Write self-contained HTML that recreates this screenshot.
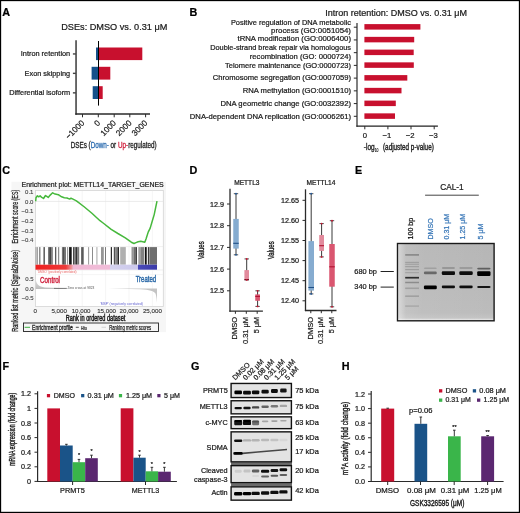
<!DOCTYPE html>
<html><head><meta charset="utf-8"><style>
html,body{margin:0;padding:0;background:#fff;}
svg{display:block;will-change:transform;}
text{font-family:"Liberation Sans", sans-serif;}
</style></head><body>
<svg width="520" height="513" viewBox="0 0 520 513" font-family='"Liberation Sans", sans-serif' fill="#1a1a1a">
<rect width="520" height="513" fill="#fff"/>
<text x="2.2" y="15.7" font-size="10.8" fill="#000" font-weight="bold" stroke="#000" stroke-width="0.22" >A</text>
<text x="61.2" y="30" font-size="9" textLength="106.2" lengthAdjust="spacingAndGlyphs" stroke="#1a1a1a" stroke-width="0.22" >DSEs: DMSO vs. 0.31 μM</text>
<line x1="76.05" y1="40.2" x2="76.05" y2="114.7" stroke="#3a3a3a" stroke-width="1.5"/>
<line x1="75.3" y1="114" x2="150" y2="114" stroke="#2a2a2a" stroke-width="1.4"/>
<rect x="96.00" y="47.50" width="2.50" height="12.60" fill="#15508a" />
<rect x="98.50" y="47.50" width="43.80" height="12.60" fill="#c8102e" />
<line x1="72.9" y1="53.95" x2="76" y2="53.95" stroke="#444" stroke-width="1.4"/>
<text x="70.2" y="56.3" font-size="7.7" text-anchor="end" textLength="49.4" lengthAdjust="spacingAndGlyphs" stroke="#1a1a1a" stroke-width="0.22" >Intron retention</text>
<rect x="91.60" y="66.80" width="6.90" height="12.80" fill="#15508a" />
<rect x="98.50" y="66.80" width="11.80" height="12.80" fill="#c8102e" />
<line x1="72.9" y1="73.35" x2="76" y2="73.35" stroke="#444" stroke-width="1.4"/>
<text x="70.2" y="75.7" font-size="7.7" text-anchor="end" textLength="45.6" lengthAdjust="spacingAndGlyphs" stroke="#1a1a1a" stroke-width="0.22" >Exon skipping</text>
<rect x="92.70" y="86.20" width="5.80" height="12.80" fill="#15508a" />
<rect x="98.50" y="86.20" width="4.20" height="12.80" fill="#c8102e" />
<line x1="72.9" y1="92.85" x2="76" y2="92.85" stroke="#444" stroke-width="1.4"/>
<text x="70.2" y="95.2" font-size="7.7" text-anchor="end" textLength="61.0" lengthAdjust="spacingAndGlyphs" stroke="#1a1a1a" stroke-width="0.22" >Differential isoform</text>
<line x1="98.5" y1="41" x2="98.5" y2="105.6" stroke="#000" stroke-width="1"/>
<line x1="82.5" y1="114" x2="82.5" y2="117.3" stroke="#2a2a2a" stroke-width="1"/>
<text x="84.9" y="123.6" font-size="8.2" text-anchor="end" transform="rotate(-45 84.9 123.6)" stroke="#1a1a1a" stroke-width="0.22" >−1000</text>
<line x1="98.3" y1="114" x2="98.3" y2="117.3" stroke="#2a2a2a" stroke-width="1"/>
<text x="100.7" y="123.6" font-size="8.2" text-anchor="end" transform="rotate(-45 100.7 123.6)" stroke="#1a1a1a" stroke-width="0.22" >0</text>
<line x1="114.2" y1="114" x2="114.2" y2="117.3" stroke="#2a2a2a" stroke-width="1"/>
<text x="116.6" y="123.6" font-size="8.2" text-anchor="end" transform="rotate(-45 116.6 123.6)" stroke="#1a1a1a" stroke-width="0.22" >1000</text>
<line x1="129.8" y1="114" x2="129.8" y2="117.3" stroke="#2a2a2a" stroke-width="1"/>
<text x="132.2" y="123.6" font-size="8.2" text-anchor="end" transform="rotate(-45 132.2 123.6)" stroke="#1a1a1a" stroke-width="0.22" >2000</text>
<line x1="145.6" y1="114" x2="145.6" y2="117.3" stroke="#2a2a2a" stroke-width="1"/>
<text x="148.0" y="123.6" font-size="8.2" text-anchor="end" transform="rotate(-45 148.0 123.6)" stroke="#1a1a1a" stroke-width="0.22" >3000</text>
<text x="70.7" y="148.1" font-size="8.6" textLength="85.8" lengthAdjust="spacingAndGlyphs" fill="#222" stroke="#222" stroke-width="0.3">DSEs (<tspan fill="#2d6db0" stroke="#2d6db0">Down-</tspan> or <tspan fill="#d0213d" stroke="#d0213d">Up-</tspan>regulated)</text>
<text x="189.6" y="15.7" font-size="10.8" fill="#000" font-weight="bold" stroke="#000" stroke-width="0.22" >B</text>
<text x="325.2" y="16.4" font-size="9" textLength="141.8" lengthAdjust="spacingAndGlyphs" stroke="#1a1a1a" stroke-width="0.22" >Intron retention: DMSO vs. 0.31 μM</text>
<line x1="357" y1="23" x2="357" y2="126.7" stroke="#2a2a2a" stroke-width="1.2"/>
<line x1="356.4" y1="126.1" x2="437.9" y2="126.1" stroke="#222" stroke-width="1.3"/>
<rect x="364.40" y="24.10" width="56.00" height="5.50" fill="#c8102e" />
<line x1="353.8" y1="27.2" x2="357" y2="27.2" stroke="#2a2a2a" stroke-width="1"/>
<rect x="364.40" y="36.85" width="49.80" height="5.50" fill="#c8102e" />
<line x1="353.8" y1="39.93" x2="357" y2="39.93" stroke="#2a2a2a" stroke-width="1"/>
<rect x="364.40" y="49.60" width="49.30" height="5.50" fill="#c8102e" />
<line x1="353.8" y1="52.66" x2="357" y2="52.66" stroke="#2a2a2a" stroke-width="1"/>
<rect x="364.40" y="62.35" width="49.40" height="5.50" fill="#c8102e" />
<line x1="353.8" y1="65.39" x2="357" y2="65.39" stroke="#2a2a2a" stroke-width="1"/>
<rect x="364.40" y="75.10" width="42.90" height="5.50" fill="#c8102e" />
<line x1="353.8" y1="78.12" x2="357" y2="78.12" stroke="#2a2a2a" stroke-width="1"/>
<rect x="364.40" y="87.85" width="37.10" height="5.50" fill="#c8102e" />
<line x1="353.8" y1="90.85" x2="357" y2="90.85" stroke="#2a2a2a" stroke-width="1"/>
<rect x="364.40" y="100.60" width="31.40" height="5.50" fill="#c8102e" />
<line x1="353.8" y1="103.58" x2="357" y2="103.58" stroke="#2a2a2a" stroke-width="1"/>
<rect x="364.40" y="113.35" width="30.60" height="5.50" fill="#c8102e" />
<line x1="353.8" y1="116.31" x2="357" y2="116.31" stroke="#2a2a2a" stroke-width="1"/>
<text x="230.9" y="25.0" font-size="7.7" textLength="120.1" lengthAdjust="spacingAndGlyphs" stroke="#1a1a1a" stroke-width="0.22" >Positive regulation of DNA metabolic</text>
<text x="271.1" y="32.9" font-size="7.7" textLength="79.9" lengthAdjust="spacingAndGlyphs" stroke="#1a1a1a" stroke-width="0.22" >process (GO:0051054)</text>
<text x="237.5" y="41.2" font-size="7.7" textLength="113.5" lengthAdjust="spacingAndGlyphs" stroke="#1a1a1a" stroke-width="0.22" >tRNA modification (GO:0006400)</text>
<text x="210.2" y="50.4" font-size="7.7" textLength="140.8" lengthAdjust="spacingAndGlyphs" stroke="#1a1a1a" stroke-width="0.22" >Double-strand break repair via homologous</text>
<text x="249.8" y="58.6" font-size="7.7" textLength="101.2" lengthAdjust="spacingAndGlyphs" stroke="#1a1a1a" stroke-width="0.22" >recombination (GO: 0000724)</text>
<text x="225.0" y="67.6" font-size="7.7" textLength="126.0" lengthAdjust="spacingAndGlyphs" stroke="#1a1a1a" stroke-width="0.22" >Telomere maintenance (GO:0000723)</text>
<text x="212.7" y="80.2" font-size="7.7" textLength="138.3" lengthAdjust="spacingAndGlyphs" stroke="#1a1a1a" stroke-width="0.22" >Chromosome segregation (GO:0007059)</text>
<text x="242.7" y="93.0" font-size="7.7" textLength="108.3" lengthAdjust="spacingAndGlyphs" stroke="#1a1a1a" stroke-width="0.22" >RNA methylation (GO:0001510)</text>
<text x="220.4" y="105.8" font-size="7.7" textLength="130.6" lengthAdjust="spacingAndGlyphs" stroke="#1a1a1a" stroke-width="0.22" >DNA geometric change (GO:0032392)</text>
<text x="189.8" y="118.5" font-size="7.7" textLength="161.2" lengthAdjust="spacingAndGlyphs" stroke="#1a1a1a" stroke-width="0.22" >DNA-dependent DNA replication (GO:0006261)</text>
<line x1="364.8" y1="126.1" x2="364.8" y2="129.3" stroke="#2a2a2a" stroke-width="1"/>
<text x="364.8" y="137.9" font-size="7.7" text-anchor="middle" stroke="#1a1a1a" stroke-width="0.22" >0</text>
<line x1="387.9" y1="126.1" x2="387.9" y2="129.3" stroke="#2a2a2a" stroke-width="1"/>
<text x="387.0" y="137.9" font-size="7.7" text-anchor="middle" stroke="#1a1a1a" stroke-width="0.22" >−1</text>
<line x1="411.0" y1="126.1" x2="411.0" y2="129.3" stroke="#2a2a2a" stroke-width="1"/>
<text x="410.1" y="137.9" font-size="7.7" text-anchor="middle" stroke="#1a1a1a" stroke-width="0.22" >−2</text>
<line x1="434.2" y1="126.1" x2="434.2" y2="129.3" stroke="#2a2a2a" stroke-width="1"/>
<text x="433.3" y="137.9" font-size="7.7" text-anchor="middle" stroke="#1a1a1a" stroke-width="0.22" >−3</text>
<text x="363.8" y="150.0" font-size="8.6" fill="#222" textLength="10.8" lengthAdjust="spacingAndGlyphs" stroke="#222" stroke-width="0.38">-log</text>
<text x="374.7" y="151.9" font-size="5.2" fill="#222" textLength="3.8" lengthAdjust="spacingAndGlyphs" stroke="#222" stroke-width="0.22" >10</text>
<text x="383.0" y="150.0" font-size="8.6" fill="#222" textLength="50.8" lengthAdjust="spacingAndGlyphs" stroke="#222" stroke-width="0.38">(adjusted p-value)</text>
<text x="2.2" y="173.7" font-size="10.8" fill="#000" font-weight="bold" stroke="#000" stroke-width="0.22" >C</text>
<rect x="11.50" y="181.80" width="154.50" height="150.30" fill="#f6f6f6" />
<rect x="35.40" y="190.40" width="127.90" height="116.20" fill="#fff" stroke="#d4d4d4" stroke-width="0.8"/>
<line x1="35.8" y1="246.6" x2="163" y2="246.6" stroke="#e6e6e6" stroke-width="0.6"/>
<line x1="35.8" y1="270.0" x2="163" y2="270.0" stroke="#e6e6e6" stroke-width="0.6"/>
<line x1="35.8" y1="274.6" x2="163" y2="274.6" stroke="#eeeeee" stroke-width="0.6"/>
<line x1="58.8" y1="190.8" x2="58.8" y2="306.2" stroke="#efefef" stroke-width="0.6"/>
<line x1="82.2" y1="190.8" x2="82.2" y2="306.2" stroke="#efefef" stroke-width="0.6"/>
<line x1="105.6" y1="190.8" x2="105.6" y2="306.2" stroke="#efefef" stroke-width="0.6"/>
<line x1="129.0" y1="190.8" x2="129.0" y2="306.2" stroke="#efefef" stroke-width="0.6"/>
<line x1="152.4" y1="190.8" x2="152.4" y2="306.2" stroke="#efefef" stroke-width="0.6"/>
<line x1="35.8" y1="201.4" x2="163" y2="201.4" stroke="#e2e2e2" stroke-width="0.7"/>
<text x="21.5" y="187.4" font-size="7.2" fill="#222" textLength="142.2" lengthAdjust="spacingAndGlyphs" stroke="#222" stroke-width="0.22" >Enrichment plot: METTL14_TARGET_GENES</text>
<text x="33.4" y="194.2" font-size="6.0" text-anchor="end" fill="#444" stroke="#444" stroke-width="0.12">0.1</text>
<text x="33.4" y="203.7" font-size="6.0" text-anchor="end" fill="#444" stroke="#444" stroke-width="0.12">0.0</text>
<text x="33.4" y="213.3" font-size="6.0" text-anchor="end" fill="#444" stroke="#444" stroke-width="0.12">−0.1</text>
<text x="33.4" y="222.9" font-size="6.0" text-anchor="end" fill="#444" stroke="#444" stroke-width="0.12">−0.2</text>
<text x="33.4" y="232.5" font-size="6.0" text-anchor="end" fill="#444" stroke="#444" stroke-width="0.12">−0.3</text>
<text x="33.4" y="242.0" font-size="6.0" text-anchor="end" fill="#444" stroke="#444" stroke-width="0.12">−0.4</text>
<text x="17.6" y="243.5" font-size="8.6" fill="#222" textLength="53.8" lengthAdjust="spacingAndGlyphs" transform="rotate(-90 17.6 243.5)" stroke="#222" stroke-width="0.25">Enrichment score (ES)</text>
<rect x="35.50" y="247.10" width="0.90" height="17.60" fill="rgb(150,150,150)" />
<rect x="36.70" y="247.10" width="1.10" height="17.60" fill="rgb(140,140,140)" />
<rect x="39.00" y="247.10" width="1.50" height="17.60" fill="rgb(140,140,140)" />
<rect x="43.40" y="247.10" width="1.60" height="17.60" fill="rgb(100,100,100)" />
<rect x="48.20" y="247.10" width="1.80" height="17.60" fill="rgb(90,90,90)" />
<rect x="50.00" y="247.10" width="1.40" height="17.60" fill="rgb(70,70,70)" />
<rect x="51.40" y="247.10" width="1.30" height="17.60" fill="rgb(100,100,100)" />
<rect x="55.00" y="247.10" width="1.30" height="17.60" fill="rgb(90,90,90)" />
<rect x="58.00" y="247.10" width="1.20" height="17.60" fill="rgb(140,140,140)" />
<rect x="61.90" y="247.10" width="1.10" height="17.60" fill="rgb(120,120,120)" />
<rect x="63.00" y="247.10" width="1.50" height="17.60" fill="rgb(80,80,80)" />
<rect x="64.50" y="247.10" width="1.20" height="17.60" fill="rgb(60,60,60)" />
<rect x="67.20" y="247.10" width="0.90" height="17.60" fill="rgb(130,130,130)" />
<rect x="69.10" y="247.10" width="2.60" height="17.60" fill="rgb(20,20,20)" />
<rect x="73.00" y="247.10" width="1.50" height="17.60" fill="rgb(70,70,70)" />
<rect x="74.50" y="247.10" width="1.50" height="17.60" fill="rgb(110,110,110)" />
<rect x="76.00" y="247.10" width="1.50" height="17.60" fill="rgb(50,50,50)" />
<rect x="77.50" y="247.10" width="1.70" height="17.60" fill="rgb(120,120,120)" />
<rect x="81.00" y="247.10" width="1.00" height="17.60" fill="rgb(110,110,110)" />
<rect x="82.00" y="247.10" width="1.00" height="17.60" fill="rgb(90,90,90)" />
<rect x="83.00" y="247.10" width="1.00" height="17.60" fill="rgb(140,140,140)" />
<rect x="88.20" y="247.10" width="0.90" height="17.60" fill="rgb(140,140,140)" />
<rect x="92.00" y="247.10" width="1.00" height="17.60" fill="rgb(140,140,140)" />
<rect x="96.30" y="247.10" width="1.20" height="17.60" fill="rgb(180,180,180)" />
<rect x="101.00" y="247.10" width="2.80" height="17.60" fill="rgb(150,150,150)" />
<rect x="105.20" y="247.10" width="0.80" height="17.60" fill="rgb(90,90,90)" />
<rect x="110.80" y="247.10" width="1.10" height="17.60" fill="rgb(20,20,20)" />
<rect x="113.80" y="247.10" width="1.70" height="17.60" fill="rgb(80,80,80)" />
<rect x="115.50" y="247.10" width="2.00" height="17.60" fill="rgb(130,130,130)" />
<rect x="117.50" y="247.10" width="1.50" height="17.60" fill="rgb(40,40,40)" />
<rect x="120.20" y="247.10" width="5.60" height="17.60" fill="rgb(175,175,175)" />
<rect x="131.50" y="247.10" width="2.00" height="17.60" fill="rgb(150,150,150)" />
<rect x="133.50" y="247.10" width="2.40" height="17.60" fill="rgb(110,110,110)" />
<rect x="135.90" y="247.10" width="0.90" height="17.60" fill="rgb(20,20,20)" />
<rect x="138.30" y="247.10" width="2.70" height="17.60" fill="rgb(160,160,160)" />
<rect x="141.00" y="247.10" width="3.00" height="17.60" fill="rgb(130,130,130)" />
<rect x="144.80" y="247.10" width="1.90" height="17.60" fill="rgb(15,15,15)" />
<rect x="147.90" y="247.10" width="0.90" height="17.60" fill="rgb(15,15,15)" />
<rect x="149.30" y="247.10" width="7.70" height="17.60" fill="rgb(110,110,110)" />
<defs><linearGradient id="cb" x1="35.5" x2="157" gradientUnits="userSpaceOnUse"><stop offset="0" stop-color="#ee2020"/><stop offset="0.25" stop-color="#ee3a3a"/><stop offset="0.3" stop-color="#ef9aa0"/><stop offset="0.31" stop-color="#f0b8d4"/><stop offset="0.61" stop-color="#f0bcd8"/><stop offset="0.615" stop-color="#d4d2ee"/><stop offset="0.84" stop-color="#ccc8ec"/><stop offset="0.845" stop-color="#4a4ab8"/><stop offset="1" stop-color="#3a3aa8"/></linearGradient></defs>
<rect x="35.50" y="264.70" width="121.50" height="5.00" fill="url(#cb)" />
<text x="37.4" y="272.6" font-size="2.8" fill="#e86060" textLength="39" lengthAdjust="spacingAndGlyphs" stroke="none">'DMSO' (positively correlated)</text>
<polyline points="35.7,201.2 36,197.8 37.4,195.8 38.7,196.8 40.1,195.8 41.4,197.1 43.5,198.5 45.5,195.5 46.8,196.4 48.2,197.4 50.2,195.1 52.6,192.8 54.2,193.7 56.2,194.2 58.3,194.7 61.6,196.8 64.3,197.8 67,198 69.7,199.1 71,198.2 73,199.1 76.4,200.9 83.8,206.5 91.9,213.3 100,220.7 103.1,223 111.2,229.4 117.9,233.5 125.3,237.8 131.3,242.2 134,243.5 136,242.6 138.1,241.8 140.8,241.3 144.8,242.2 146.1,238.8 148.2,232.1 150.2,228.1 152.2,221.3 154.2,214.6 155.6,207.9 157,201.2" fill="none" stroke="#46b83c" stroke-width="1.5" stroke-linejoin="round"/>
<defs><linearGradient id="rk" x1="0" y1="0" x2="0" y2="1"><stop offset="0" stop-color="#e4e4e4"/><stop offset="1" stop-color="#bdbdbd"/></linearGradient></defs>
<path d="M35.6,289 L35.6,278.2 C36.2,284 38.5,286.6 45,287.4 L66,288.2 L66,289 Z" fill="url(#rk)"/>
<path d="M108,288.5 L140,289.2 C150,289.8 154,291 155.5,293.5 C156.4,296 156.8,300 157,303 L157,288.5 Z" fill="#c4c4c4"/>
<line x1="54" y1="288.4" x2="67" y2="288.4" stroke="#444" stroke-width="0.6"/>
<text x="67.5" y="289.3" font-size="3.0" fill="#555" textLength="26.8" lengthAdjust="spacingAndGlyphs" stroke="none">Zero cross at 9823</text>
<text x="40.1" y="283.0" font-size="8.6" fill="#d0213d" textLength="19.9" lengthAdjust="spacingAndGlyphs" stroke="#d0213d" stroke-width="0.45">Control</text>
<text x="135.7" y="282.0" font-size="8.6" fill="#2c6aa8" textLength="20.4" lengthAdjust="spacingAndGlyphs" stroke="#2c6aa8" stroke-width="0.45">Treated</text>
<text x="100" y="305.2" font-size="2.8" fill="#6060d0" textLength="43" lengthAdjust="spacingAndGlyphs" stroke="none">'MSP' (negatively correlated)</text>
<text x="33.6" y="281.0" font-size="6.0" text-anchor="end" fill="#444" stroke="#444" stroke-width="0.12">0.5</text>
<text x="33.6" y="290.6" font-size="6.0" text-anchor="end" fill="#444" stroke="#444" stroke-width="0.12">0.0</text>
<text x="33.6" y="299.8" font-size="6.0" text-anchor="end" fill="#444" stroke="#444" stroke-width="0.12">−0.5</text>
<text x="17.6" y="331.8" font-size="8.6" fill="#222" textLength="81.9" lengthAdjust="spacingAndGlyphs" transform="rotate(-90 17.6 331.8)" stroke="#222" stroke-width="0.28">Ranked list metric (Signal2Noise)</text>
<text x="35.2" y="312.5" font-size="6.2" text-anchor="middle" fill="#333" stroke="#333" stroke-width="0.12">0</text>
<text x="59.2" y="312.5" font-size="6.2" text-anchor="middle" fill="#333" stroke="#333" stroke-width="0.12">5,000</text>
<text x="81.1" y="312.5" font-size="6.2" text-anchor="middle" fill="#333" stroke="#333" stroke-width="0.12">10,000</text>
<text x="106.6" y="312.5" font-size="6.2" text-anchor="middle" fill="#333" stroke="#333" stroke-width="0.12">15,000</text>
<text x="129.0" y="312.5" font-size="6.2" text-anchor="middle" fill="#333" stroke="#333" stroke-width="0.12">20,000</text>
<text x="152.4" y="312.5" font-size="6.2" text-anchor="middle" fill="#333" stroke="#333" stroke-width="0.12">25,000</text>
<text x="65.7" y="320.8" font-size="8.2" fill="#222" textLength="59.6" lengthAdjust="spacingAndGlyphs" stroke="#222" stroke-width="0.5">Rank in ordered dataset</text>
<rect x="23.50" y="323.00" width="135.00" height="8.50" fill="#f6f6f6" stroke="#222" stroke-width="0.9"/>
<line x1="24.6" y1="327.3" x2="30" y2="327.3" stroke="#3cb043" stroke-width="1"/>
<text x="32" y="329.8" font-size="7.2" fill="#222" textLength="40.8" lengthAdjust="spacingAndGlyphs" stroke="#222" stroke-width="0.3">Enrichment profile</text>
<line x1="75.8" y1="327.3" x2="78.8" y2="327.3" stroke="#222" stroke-width="0.8"/>
<text x="81" y="329.8" font-size="5.6" fill="#222" textLength="6" lengthAdjust="spacingAndGlyphs" stroke="#222" stroke-width="0.22" >Hits</text>
<line x1="101.5" y1="327.3" x2="106" y2="327.3" stroke="#ccc" stroke-width="0.8"/>
<text x="109.2" y="329.8" font-size="7.0" fill="#222" textLength="42" lengthAdjust="spacingAndGlyphs" stroke="#222" stroke-width="0.25">Ranking metric scores</text>
<text x="189.5" y="173.7" font-size="10.8" fill="#000" font-weight="bold" stroke="#000" stroke-width="0.22" >D</text>
<text x="234.2" y="185" font-size="6.6" stroke="#1a1a1a" stroke-width="0.22" >METTL3</text>
<line x1="230" y1="188.8" x2="230" y2="311.7" stroke="#2a2a2a" stroke-width="1.3"/>
<line x1="229.4" y1="311.1" x2="262.9" y2="311.1" stroke="#2a2a2a" stroke-width="1.3"/>
<line x1="227" y1="204.0" x2="230" y2="204.0" stroke="#2a2a2a" stroke-width="1"/>
<text x="224" y="206.5" font-size="7.2" text-anchor="end" stroke="#1a1a1a" stroke-width="0.22" >12.9</text>
<line x1="227" y1="225.7" x2="230" y2="225.7" stroke="#2a2a2a" stroke-width="1"/>
<text x="224" y="228.2" font-size="7.2" text-anchor="end" stroke="#1a1a1a" stroke-width="0.22" >12.8</text>
<line x1="227" y1="247.4" x2="230" y2="247.4" stroke="#2a2a2a" stroke-width="1"/>
<text x="224" y="249.9" font-size="7.2" text-anchor="end" stroke="#1a1a1a" stroke-width="0.22" >12.7</text>
<line x1="227" y1="269.1" x2="230" y2="269.1" stroke="#2a2a2a" stroke-width="1"/>
<text x="224" y="271.6" font-size="7.2" text-anchor="end" stroke="#1a1a1a" stroke-width="0.22" >12.6</text>
<line x1="227" y1="290.8" x2="230" y2="290.8" stroke="#2a2a2a" stroke-width="1"/>
<text x="224" y="293.3" font-size="7.2" text-anchor="end" stroke="#1a1a1a" stroke-width="0.22" >12.5</text>
<text x="204.1" y="259.3" font-size="8.8" textLength="18" lengthAdjust="spacingAndGlyphs" transform="rotate(-90 204.1 259.3)" stroke="#1a1a1a" stroke-width="0.35">Values</text>
<line x1="236.0" y1="193.7" x2="236.0" y2="254.8" stroke="#222" stroke-width="0.9"/>
<rect x="233.25" y="218.90" width="5.50" height="29.70" fill="#86acd0" />
<line x1="233.25" y1="243.3" x2="238.75" y2="243.3" stroke="#1e4f86" stroke-width="1.1"/>
<line x1="233.8" y1="193.7" x2="238.2" y2="193.7" stroke="#222" stroke-width="0.8"/>
<circle cx="236.0" cy="193.7" r="0.9" fill="#1e5aa0"/>
<line x1="233.8" y1="254.8" x2="238.2" y2="254.8" stroke="#222" stroke-width="0.8"/>
<circle cx="236.0" cy="254.8" r="0.9" fill="#1e5aa0"/>
<line x1="246.7" y1="258.9" x2="246.7" y2="279.9" stroke="#222" stroke-width="0.9"/>
<rect x="244.40" y="270.10" width="4.60" height="9.80" fill="#e28a9c" />
<line x1="244.4" y1="279.6" x2="249.0" y2="279.6" stroke="#b01030" stroke-width="1.1"/>
<line x1="244.5" y1="258.9" x2="248.9" y2="258.9" stroke="#222" stroke-width="0.8"/>
<circle cx="246.7" cy="258.9" r="0.9" fill="#d0102e"/>
<line x1="244.5" y1="279.9" x2="248.9" y2="279.9" stroke="#222" stroke-width="0.8"/>
<circle cx="246.7" cy="279.9" r="0.9" fill="#d0102e"/>
<line x1="257.6" y1="290.8" x2="257.6" y2="306.4" stroke="#222" stroke-width="0.9"/>
<rect x="255.25" y="294.40" width="4.70" height="6.40" fill="#da5670" />
<line x1="255.25" y1="296.4" x2="259.95" y2="296.4" stroke="#b01030" stroke-width="1.1"/>
<line x1="255.4" y1="290.8" x2="259.8" y2="290.8" stroke="#222" stroke-width="0.8"/>
<circle cx="257.6" cy="290.8" r="0.9" fill="#d0102e"/>
<line x1="255.4" y1="306.4" x2="259.8" y2="306.4" stroke="#222" stroke-width="0.8"/>
<circle cx="257.6" cy="306.4" r="0.9" fill="#d0102e"/>
<line x1="235.4" y1="311.1" x2="235.4" y2="313.8" stroke="#2a2a2a" stroke-width="1"/>
<line x1="246.3" y1="311.1" x2="246.3" y2="313.8" stroke="#2a2a2a" stroke-width="1"/>
<line x1="257.2" y1="311.1" x2="257.2" y2="313.8" stroke="#2a2a2a" stroke-width="1"/>
<text x="237.3" y="316.9" font-size="7.9" text-anchor="end" textLength="22.6" lengthAdjust="spacingAndGlyphs" transform="rotate(-90 237.3 316.9)" stroke="#1a1a1a" stroke-width="0.22" >DMSO</text>
<text x="248.0" y="316.9" font-size="7.9" text-anchor="end" textLength="27.2" lengthAdjust="spacingAndGlyphs" transform="rotate(-90 248.0 316.9)" stroke="#1a1a1a" stroke-width="0.22" >0.31 μM</text>
<text x="259.0" y="316.9" font-size="7.9" text-anchor="end" textLength="16.4" lengthAdjust="spacingAndGlyphs" transform="rotate(-90 259.0 316.9)" stroke="#1a1a1a" stroke-width="0.22" >5 μM</text>
<text x="306.5" y="185" font-size="6.6" stroke="#1a1a1a" stroke-width="0.22" >METTL14</text>
<line x1="305.5" y1="189.3" x2="305.5" y2="311.1" stroke="#2a2a2a" stroke-width="1.3"/>
<line x1="304.9" y1="310.5" x2="336.5" y2="310.5" stroke="#2a2a2a" stroke-width="1.3"/>
<line x1="302.5" y1="200.3" x2="305.5" y2="200.3" stroke="#2a2a2a" stroke-width="1"/>
<text x="299" y="202.8" font-size="7.2" text-anchor="end" stroke="#1a1a1a" stroke-width="0.22" >12.65</text>
<line x1="302.5" y1="220.4" x2="305.5" y2="220.4" stroke="#2a2a2a" stroke-width="1"/>
<text x="299" y="222.9" font-size="7.2" text-anchor="end" stroke="#1a1a1a" stroke-width="0.22" >12.60</text>
<line x1="302.5" y1="240.5" x2="305.5" y2="240.5" stroke="#2a2a2a" stroke-width="1"/>
<text x="299" y="243.0" font-size="7.2" text-anchor="end" stroke="#1a1a1a" stroke-width="0.22" >12.55</text>
<line x1="302.5" y1="260.6" x2="305.5" y2="260.6" stroke="#2a2a2a" stroke-width="1"/>
<text x="299" y="263.1" font-size="7.2" text-anchor="end" stroke="#1a1a1a" stroke-width="0.22" >12.50</text>
<line x1="302.5" y1="280.7" x2="305.5" y2="280.7" stroke="#2a2a2a" stroke-width="1"/>
<text x="299" y="283.2" font-size="7.2" text-anchor="end" stroke="#1a1a1a" stroke-width="0.22" >12.45</text>
<line x1="302.5" y1="300.8" x2="305.5" y2="300.8" stroke="#2a2a2a" stroke-width="1"/>
<text x="299" y="303.3" font-size="7.2" text-anchor="end" stroke="#1a1a1a" stroke-width="0.22" >12.40</text>
<text x="274.5" y="259.3" font-size="8.8" textLength="18" lengthAdjust="spacingAndGlyphs" transform="rotate(-90 274.5 259.3)" stroke="#1a1a1a" stroke-width="0.35">Values</text>
<line x1="311.2" y1="193.7" x2="311.2" y2="293.9" stroke="#222" stroke-width="0.9"/>
<rect x="308.40" y="241.10" width="5.60" height="49.50" fill="#86acd0" />
<line x1="308.4" y1="287.5" x2="314.0" y2="287.5" stroke="#1e4f86" stroke-width="1.1"/>
<line x1="309.0" y1="193.7" x2="313.4" y2="193.7" stroke="#222" stroke-width="0.8"/>
<circle cx="311.2" cy="193.7" r="0.9" fill="#1e5aa0"/>
<line x1="309.0" y1="293.9" x2="313.4" y2="293.9" stroke="#222" stroke-width="0.8"/>
<circle cx="311.2" cy="293.9" r="0.9" fill="#1e5aa0"/>
<line x1="321.6" y1="223.6" x2="321.6" y2="256.9" stroke="#222" stroke-width="0.9"/>
<rect x="319.20" y="235.00" width="4.80" height="15.90" fill="#e28a9c" />
<line x1="319.2" y1="245.7" x2="324.0" y2="245.7" stroke="#b01030" stroke-width="1.1"/>
<line x1="319.4" y1="223.6" x2="323.8" y2="223.6" stroke="#222" stroke-width="0.8"/>
<circle cx="321.6" cy="223.6" r="0.9" fill="#d0102e"/>
<line x1="319.4" y1="256.9" x2="323.8" y2="256.9" stroke="#222" stroke-width="0.8"/>
<circle cx="321.6" cy="256.9" r="0.9" fill="#d0102e"/>
<line x1="332.0" y1="220.7" x2="332.0" y2="306.8" stroke="#222" stroke-width="0.9"/>
<rect x="329.25" y="244.00" width="5.50" height="42.70" fill="#da5670" />
<line x1="329.25" y1="266.8" x2="334.75" y2="266.8" stroke="#b01030" stroke-width="1.1"/>
<line x1="329.8" y1="220.7" x2="334.2" y2="220.7" stroke="#222" stroke-width="0.8"/>
<circle cx="332.0" cy="220.7" r="0.9" fill="#d0102e"/>
<line x1="329.8" y1="306.8" x2="334.2" y2="306.8" stroke="#222" stroke-width="0.8"/>
<circle cx="332.0" cy="306.8" r="0.9" fill="#d0102e"/>
<line x1="310.8" y1="310.5" x2="310.8" y2="313.2" stroke="#2a2a2a" stroke-width="1"/>
<line x1="321.3" y1="310.5" x2="321.3" y2="313.2" stroke="#2a2a2a" stroke-width="1"/>
<line x1="331.8" y1="310.5" x2="331.8" y2="313.2" stroke="#2a2a2a" stroke-width="1"/>
<text x="312.7" y="316.9" font-size="7.9" text-anchor="end" textLength="22.6" lengthAdjust="spacingAndGlyphs" transform="rotate(-90 312.7 316.9)" stroke="#1a1a1a" stroke-width="0.22" >DMSO</text>
<text x="323.0" y="316.9" font-size="7.9" text-anchor="end" textLength="27.2" lengthAdjust="spacingAndGlyphs" transform="rotate(-90 323.0 316.9)" stroke="#1a1a1a" stroke-width="0.22" >0.31 μM</text>
<text x="333.6" y="316.9" font-size="7.9" text-anchor="end" textLength="16.4" lengthAdjust="spacingAndGlyphs" transform="rotate(-90 333.6 316.9)" stroke="#1a1a1a" stroke-width="0.22" >5 μM</text>
<text x="354.9" y="173.7" font-size="10.8" fill="#000" font-weight="bold" stroke="#000" stroke-width="0.22" >E</text>
<text x="440.2" y="189.6" font-size="9.0" textLength="23.5" lengthAdjust="spacingAndGlyphs" stroke="#1a1a1a" stroke-width="0.22" >CAL-1</text>
<line x1="425.1" y1="195.2" x2="478.8" y2="195.2" stroke="#444" stroke-width="1"/>
<text x="413.4" y="239.5" font-size="7.1" fill="#111" transform="rotate(-90 413.4 239.5)" stroke="#111" stroke-width="0.22" >100 bp</text>
<text x="433.3" y="239.5" font-size="7.1" fill="#3a78b8" transform="rotate(-90 433.3 239.5)" stroke="#3a78b8" stroke-width="0.22" >DMSO</text>
<text x="448.9" y="239.5" font-size="7.1" fill="#3a78b8" transform="rotate(-90 448.9 239.5)" stroke="#3a78b8" stroke-width="0.22" >0.31 μM</text>
<text x="464.8" y="239.5" font-size="7.1" fill="#3a78b8" transform="rotate(-90 464.8 239.5)" stroke="#3a78b8" stroke-width="0.22" >1.25 μM</text>
<text x="482.6" y="239.5" font-size="7.1" fill="#3a78b8" transform="rotate(-90 482.6 239.5)" stroke="#3a78b8" stroke-width="0.22" >5 μM</text>
<defs><linearGradient id="gel" x1="0" y1="0" x2="0" y2="1"><stop offset="0" stop-color="#b6b6b6"/><stop offset="0.5" stop-color="#b9b9b9"/><stop offset="0.9" stop-color="#bcbcbc"/><stop offset="0.965" stop-color="#c4c4c4"/><stop offset="0.985" stop-color="#e2e2e2"/><stop offset="1" stop-color="#e2e2e2"/></linearGradient><linearGradient id="gelx" x1="0" y1="0" x2="1" y2="0"><stop offset="0" stop-color="#fff" stop-opacity="0.45"/><stop offset="0.08" stop-color="#fff" stop-opacity="0.12"/><stop offset="0.25" stop-color="#fff" stop-opacity="0.05"/><stop offset="1" stop-color="#fff" stop-opacity="0"/></linearGradient><filter id="blur1" x="-20%" y="-50%" width="140%" height="200%"><feGaussianBlur stdDeviation="0.55"/></filter></defs>
<rect x="397.50" y="243.50" width="96.60" height="77.30" fill="url(#gel)" stroke="#1a1a1a" stroke-width="1.4"/>
<rect x="398.20" y="244.20" width="95.20" height="75.90" fill="url(#gelx)" />
<g filter="url(#blur1)">
<rect x="405.20" y="254.10" width="13.80" height="1.60" fill="rgb(135,135,135)" />
<rect x="405.20" y="261.80" width="13.80" height="1.40" fill="rgb(160,160,160)" />
<rect x="405.20" y="263.80" width="13.80" height="1.20" fill="rgb(165,165,165)" />
<rect x="405.20" y="265.95" width="13.80" height="1.30" fill="rgb(160,160,160)" />
<rect x="405.20" y="268.95" width="13.80" height="1.30" fill="rgb(158,158,158)" />
<rect x="405.20" y="271.95" width="13.80" height="1.30" fill="rgb(165,165,165)" />
<rect x="405.20" y="276.85" width="13.80" height="1.70" fill="rgb(45,45,45)" />
<rect x="405.20" y="281.75" width="13.80" height="1.50" fill="rgb(140,140,140)" />
<rect x="405.20" y="287.50" width="13.80" height="1.60" fill="rgb(160,160,160)" />
<rect x="405.20" y="295.40" width="13.80" height="1.60" fill="rgb(160,160,160)" />
<rect x="405.20" y="305.30" width="13.80" height="1.60" fill="rgb(170,170,170)" />
<rect x="423.9" y="267.40" width="12.90" height="1.6" rx="1.2" fill="rgb(160,160,160)"/>
<rect x="423.9" y="271.60" width="12.90" height="2.6" rx="1.2" fill="rgb(105,105,105)"/>
<rect x="423.9" y="285.50" width="12.90" height="3.8" rx="1.2" fill="rgb(5,5,5)"/>
<rect x="441.8" y="267.20" width="13.20" height="1.6" rx="1.2" fill="rgb(140,140,140)"/>
<rect x="441.8" y="271.30" width="13.20" height="3.6" rx="1.2" fill="rgb(10,10,10)"/>
<rect x="441.8" y="285.50" width="13.20" height="2.8" rx="1.2" fill="rgb(15,15,15)"/>
<rect x="459.3" y="267.20" width="13.40" height="1.6" rx="1.2" fill="rgb(145,145,145)"/>
<rect x="459.3" y="271.30" width="13.40" height="3.6" rx="1.2" fill="rgb(10,10,10)"/>
<rect x="459.3" y="285.50" width="13.40" height="2.8" rx="1.2" fill="rgb(15,15,15)"/>
<rect x="477.2" y="267.70" width="13.30" height="1.8" rx="1.2" fill="rgb(95,95,95)"/>
<rect x="477.2" y="271.30" width="13.30" height="4.6" rx="1.2" fill="rgb(5,5,5)"/>
<rect x="477.2" y="285.90" width="13.30" height="2.2" rx="1.2" fill="rgb(20,20,20)"/>
</g>
<text x="354.3" y="273.6" font-size="7.3" textLength="22.6" lengthAdjust="spacingAndGlyphs" stroke="#1a1a1a" stroke-width="0.22" >680 bp</text>
<line x1="380.6" y1="271.5" x2="393.8" y2="271.5" stroke="#222" stroke-width="1"/>
<text x="354.3" y="289.2" font-size="7.3" textLength="22.6" lengthAdjust="spacingAndGlyphs" stroke="#1a1a1a" stroke-width="0.22" >340 bp</text>
<line x1="380.6" y1="287.1" x2="393.8" y2="287.1" stroke="#222" stroke-width="1"/>
<text x="2.6" y="370" font-size="10.8" fill="#000" font-weight="bold" stroke="#000" stroke-width="0.22" >F</text>
<line x1="37.6" y1="391.3" x2="37.6" y2="482.1" stroke="#2a2a2a" stroke-width="1.2"/>
<line x1="37" y1="481.5" x2="176.9" y2="481.5" stroke="#2a2a2a" stroke-width="1.2"/>
<line x1="34.5" y1="393.8" x2="37.6" y2="393.8" stroke="#2a2a2a" stroke-width="1"/>
<text x="31.1" y="396.3" font-size="7.2" text-anchor="end" stroke="#1a1a1a" stroke-width="0.22" >1.2</text>
<line x1="34.5" y1="408.4" x2="37.6" y2="408.4" stroke="#2a2a2a" stroke-width="1"/>
<text x="31.1" y="410.9" font-size="7.2" text-anchor="end" stroke="#1a1a1a" stroke-width="0.22" >1</text>
<line x1="34.5" y1="423.0" x2="37.6" y2="423.0" stroke="#2a2a2a" stroke-width="1"/>
<text x="31.1" y="425.5" font-size="7.2" text-anchor="end" stroke="#1a1a1a" stroke-width="0.22" >0.8</text>
<line x1="34.5" y1="437.6" x2="37.6" y2="437.6" stroke="#2a2a2a" stroke-width="1"/>
<text x="31.1" y="440.1" font-size="7.2" text-anchor="end" stroke="#1a1a1a" stroke-width="0.22" >0.6</text>
<line x1="34.5" y1="452.2" x2="37.6" y2="452.2" stroke="#2a2a2a" stroke-width="1"/>
<text x="31.1" y="454.7" font-size="7.2" text-anchor="end" stroke="#1a1a1a" stroke-width="0.22" >0.4</text>
<line x1="34.5" y1="466.8" x2="37.6" y2="466.8" stroke="#2a2a2a" stroke-width="1"/>
<text x="31.1" y="469.3" font-size="7.2" text-anchor="end" stroke="#1a1a1a" stroke-width="0.22" >0.2</text>
<line x1="34.5" y1="481.4" x2="37.6" y2="481.4" stroke="#2a2a2a" stroke-width="1"/>
<text x="31.1" y="483.9" font-size="7.2" text-anchor="end" stroke="#1a1a1a" stroke-width="0.22" >0</text>
<text x="15.0" y="465.8" font-size="8.8" textLength="73" lengthAdjust="spacingAndGlyphs" transform="rotate(-90 15.0 465.8)" stroke="#1a1a1a" stroke-width="0.38">mRNA expression (fold change)</text>
<rect x="47.30" y="408.40" width="12.70" height="73.10" fill="#c8102e" />
<rect x="60.00" y="445.50" width="12.70" height="36.00" fill="#1a5388" />
<rect x="72.70" y="462.20" width="12.50" height="19.30" fill="#3ab54a" />
<rect x="85.20" y="458.20" width="12.60" height="23.30" fill="#5b2770" />
<line x1="66.4" y1="445.5" x2="66.4" y2="444.3" stroke="#222" stroke-width="0.9"/>
<line x1="65.1" y1="444.3" x2="67.7" y2="444.3" stroke="#222" stroke-width="0.9"/>
<line x1="79.0" y1="462.2" x2="79.0" y2="459.4" stroke="#222" stroke-width="0.9"/>
<line x1="77.7" y1="459.4" x2="80.3" y2="459.4" stroke="#222" stroke-width="0.9"/>
<text x="79.0" y="457.2" font-size="5.5" text-anchor="middle" stroke="#1a1a1a" stroke-width="0.22" >*</text>
<line x1="91.5" y1="458.2" x2="91.5" y2="455.2" stroke="#222" stroke-width="0.9"/>
<line x1="90.2" y1="455.2" x2="92.8" y2="455.2" stroke="#222" stroke-width="0.9"/>
<text x="91.5" y="453.2" font-size="5.5" text-anchor="middle" stroke="#1a1a1a" stroke-width="0.22" >*</text>
<rect x="120.70" y="408.30" width="12.70" height="73.20" fill="#c8102e" />
<rect x="133.40" y="457.70" width="12.30" height="23.80" fill="#1a5388" />
<rect x="145.70" y="471.30" width="12.40" height="10.20" fill="#3ab54a" />
<rect x="158.10" y="471.70" width="12.70" height="9.80" fill="#5b2770" />
<line x1="139.5" y1="457.7" x2="139.5" y2="455.2" stroke="#222" stroke-width="0.9"/>
<line x1="138.2" y1="455.2" x2="140.8" y2="455.2" stroke="#222" stroke-width="0.9"/>
<text x="139.5" y="453.9" font-size="5.5" text-anchor="middle" stroke="#1a1a1a" stroke-width="0.22" >*</text>
<line x1="151.9" y1="471.3" x2="151.9" y2="467.3" stroke="#222" stroke-width="0.9"/>
<line x1="150.6" y1="467.3" x2="153.2" y2="467.3" stroke="#222" stroke-width="0.9"/>
<text x="151.9" y="465.6" font-size="5.5" text-anchor="middle" stroke="#1a1a1a" stroke-width="0.22" >*</text>
<line x1="164.4" y1="471.7" x2="164.4" y2="467.3" stroke="#222" stroke-width="0.9"/>
<line x1="163.1" y1="467.3" x2="165.7" y2="467.3" stroke="#222" stroke-width="0.9"/>
<text x="164.4" y="465.6" font-size="5.5" text-anchor="middle" stroke="#1a1a1a" stroke-width="0.22" >*</text>
<line x1="72.6" y1="481.5" x2="72.6" y2="485" stroke="#2a2a2a" stroke-width="1"/>
<line x1="145.5" y1="481.5" x2="145.5" y2="485" stroke="#2a2a2a" stroke-width="1"/>
<text x="72.5" y="493.1" font-size="7.3" text-anchor="middle" textLength="24.9" lengthAdjust="spacingAndGlyphs" stroke="#1a1a1a" stroke-width="0.22" >PRMT5</text>
<text x="145.5" y="493.2" font-size="7.3" text-anchor="middle" textLength="27.5" lengthAdjust="spacingAndGlyphs" stroke="#1a1a1a" stroke-width="0.22" >METTL3</text>
<rect x="46.90" y="394.00" width="3.20" height="3.30" fill="#c8102e" />
<text x="53.7" y="397.5" font-size="7.0" textLength="21.2" lengthAdjust="spacingAndGlyphs" stroke="#1a1a1a" stroke-width="0.22" >DMSO</text>
<rect x="81.10" y="394.00" width="3.20" height="3.30" fill="#1a5388" />
<text x="87.6" y="397.5" font-size="7.0" textLength="26.3" lengthAdjust="spacingAndGlyphs" stroke="#1a1a1a" stroke-width="0.22" >0.31 μM</text>
<rect x="118.90" y="394.00" width="3.20" height="3.30" fill="#3ab54a" />
<text x="125.9" y="397.5" font-size="7.0" textLength="26.2" lengthAdjust="spacingAndGlyphs" stroke="#1a1a1a" stroke-width="0.22" >1.25 μM</text>
<rect x="157.30" y="394.00" width="3.20" height="3.30" fill="#5b2770" />
<text x="164.1" y="397.5" font-size="7.0" textLength="15.9" lengthAdjust="spacingAndGlyphs" stroke="#1a1a1a" stroke-width="0.22" >5 μM</text>
<text x="191.1" y="370" font-size="10.8" fill="#000" font-weight="bold" stroke="#000" stroke-width="0.22" >G</text>
<text x="235.2" y="380.6" font-size="7.2" transform="rotate(-45 235.2 380.6)" stroke="#1a1a1a" stroke-width="0.22" >DMSO</text>
<text x="245.7" y="380.6" font-size="7.2" transform="rotate(-45 245.7 380.6)" stroke="#1a1a1a" stroke-width="0.22" >0.02 μM</text>
<text x="256.2" y="380.6" font-size="7.2" transform="rotate(-45 256.2 380.6)" stroke="#1a1a1a" stroke-width="0.22" >0.08 μM</text>
<text x="266.7" y="380.6" font-size="7.2" transform="rotate(-45 266.7 380.6)" stroke="#1a1a1a" stroke-width="0.22" >0.31 μM</text>
<text x="277.2" y="380.6" font-size="7.2" transform="rotate(-45 277.2 380.6)" stroke="#1a1a1a" stroke-width="0.22" >1.25 μM</text>
<text x="287.7" y="380.6" font-size="7.2" transform="rotate(-45 287.7 380.6)" stroke="#1a1a1a" stroke-width="0.22" >5 μM</text>
<rect x="231.00" y="462.20" width="61.00" height="3.00" fill="#6a6a6a" />
<rect x="231.00" y="483.20" width="61.00" height="3.20" fill="#6a6a6a" />
<rect x="231.1" y="383.45" width="60.3" height="14.10" fill="#e3e3e3" stroke="#111" stroke-width="1.4"/>
<text x="295.2" y="393.4" font-size="7.3" textLength="23.6" lengthAdjust="spacingAndGlyphs" stroke="#1a1a1a" stroke-width="0.22" >75 kDa</text>
<rect x="231.1" y="400.75" width="60.3" height="13.10" fill="#e3e3e3" stroke="#111" stroke-width="1.4"/>
<text x="295.2" y="409.3" font-size="7.3" textLength="23.6" lengthAdjust="spacingAndGlyphs" stroke="#1a1a1a" stroke-width="0.22" >75 kDa</text>
<rect x="231.1" y="416.85" width="60.3" height="11.80" fill="#e3e3e3" stroke="#111" stroke-width="1.4"/>
<text x="295.2" y="425.1" font-size="7.3" textLength="23.6" lengthAdjust="spacingAndGlyphs" stroke="#1a1a1a" stroke-width="0.22" >63 kDa</text>
<rect x="231.1" y="431.85" width="60.3" height="30.00" fill="#e3e3e3" stroke="#111" stroke-width="1.4"/>
<rect x="231.1" y="465.65" width="60.3" height="17.00" fill="#e3e3e3" stroke="#111" stroke-width="1.4"/>
<text x="295.2" y="472.7" font-size="7.3" textLength="23.6" lengthAdjust="spacingAndGlyphs" stroke="#1a1a1a" stroke-width="0.22" >20 kDa</text>
<rect x="231.1" y="486.85" width="60.3" height="13.30" fill="#e3e3e3" stroke="#111" stroke-width="1.4"/>
<text x="295.2" y="493.1" font-size="7.3" textLength="23.6" lengthAdjust="spacingAndGlyphs" stroke="#1a1a1a" stroke-width="0.22" >42 kDa</text>
<text x="295.2" y="439.5" font-size="7.3" textLength="23.6" lengthAdjust="spacingAndGlyphs" stroke="#1a1a1a" stroke-width="0.22" >25 kDa</text>
<text x="295.2" y="454.3" font-size="7.3" textLength="23.6" lengthAdjust="spacingAndGlyphs" stroke="#1a1a1a" stroke-width="0.22" >17 kDa</text>
<text x="227.7" y="393.4" font-size="7.3" text-anchor="end" stroke="#1a1a1a" stroke-width="0.22" >PRMT5</text>
<text x="227.7" y="409.4" font-size="7.3" text-anchor="end" stroke="#1a1a1a" stroke-width="0.22" >METTL3</text>
<text x="227.7" y="425.4" font-size="7.3" text-anchor="end" stroke="#1a1a1a" stroke-width="0.22" >c-MYC</text>
<text x="227.7" y="449.5" font-size="7.3" text-anchor="end" stroke="#1a1a1a" stroke-width="0.22" >SDMA</text>
<text x="227.7" y="472.8" font-size="7.3" text-anchor="end" stroke="#1a1a1a" stroke-width="0.22" >Cleaved</text>
<text x="227.7" y="481.6" font-size="7.3" text-anchor="end" stroke="#1a1a1a" stroke-width="0.22" >caspase-3</text>
<text x="227.7" y="495.4" font-size="7.3" text-anchor="end" stroke="#1a1a1a" stroke-width="0.22" >Actin</text>
<defs><filter id="blur2" x="-20%" y="-80%" width="140%" height="260%"><feGaussianBlur stdDeviation="0.6"/></filter></defs>
<g filter="url(#blur2)">
<rect x="234.40" y="390.50" width="7.6" height="3.8" rx="1.2" fill="rgb(5,5,5)"/>
<rect x="243.10" y="390.70" width="7.8" height="3.8" rx="1.2" fill="rgb(10,10,10)"/>
<rect x="251.90" y="390.40" width="7.4" height="3.8" rx="1.2" fill="rgb(10,10,10)"/>
<rect x="261.50" y="389.70" width="7.2" height="3.8" rx="1.2" fill="rgb(10,10,10)"/>
<rect x="271.00" y="389.10" width="6.8" height="3.8" rx="1.2" fill="rgb(15,15,15)"/>
<rect x="280.20" y="388.60" width="6.4" height="3.8" rx="1.2" fill="rgb(20,20,20)"/>
<rect x="234.50" y="406.90" width="7.4" height="2.4" rx="1.2" fill="rgb(10,10,10)"/>
<rect x="243.30" y="406.80" width="7.4" height="2.4" rx="1.2" fill="rgb(20,20,20)"/>
<rect x="251.90" y="406.20" width="7.4" height="2.4" rx="1.2" fill="rgb(70,70,70)"/>
<rect x="261.40" y="405.60" width="7.4" height="2.4" rx="1.2" fill="rgb(100,100,100)"/>
<rect x="270.70" y="405.10" width="7.4" height="2.4" rx="1.2" fill="rgb(120,120,120)"/>
<rect x="279.70" y="404.70" width="7.4" height="2.4" rx="1.2" fill="rgb(165,165,165)"/>
<rect x="234.20" y="420.70" width="8" height="4.6" rx="1.2" fill="rgb(25,25,25)"/>
<rect x="243.00" y="420.50" width="8" height="4.6" rx="1.2" fill="rgb(15,15,15)"/>
<rect x="252.10" y="420.70" width="7" height="4.6" rx="1.2" fill="rgb(110,110,110)"/>
<rect x="261.85" y="420.60" width="6.5" height="1.6" rx="1.2" fill="rgb(165,165,165)"/>
<rect x="271.15" y="420.30" width="6.5" height="1.6" rx="1.2" fill="rgb(160,160,160)"/>
<rect x="280.15" y="420.00" width="6.5" height="1.6" rx="1.2" fill="rgb(165,165,165)"/>
<rect x="234.20" y="420.00" width="8" height="2.0" rx="1.2" fill="rgb(5,5,5)"/>
<rect x="243.00" y="419.80" width="8" height="2.0" rx="1.2" fill="rgb(0,0,0)"/>
<rect x="252.10" y="420.40" width="7" height="2.0" rx="1.2" fill="rgb(80,80,80)"/>
<rect x="234.10" y="439.60" width="8.2" height="2.4" rx="1.2" fill="rgb(15,15,15)"/>
<rect x="242.90" y="439.20" width="8.2" height="2.4" rx="1.2" fill="rgb(175,175,175)"/>
<rect x="251.50" y="439.00" width="8.2" height="2.4" rx="1.2" fill="rgb(180,180,180)"/>
<rect x="261.00" y="438.80" width="8.2" height="2.4" rx="1.2" fill="rgb(185,185,185)"/>
<rect x="270.30" y="438.80" width="8.2" height="2.4" rx="1.2" fill="rgb(195,195,195)"/>
<rect x="279.30" y="438.80" width="8.2" height="2.4" rx="1.2" fill="rgb(215,215,215)"/>
<polygon points="233.3,452.2 242.5,452.4 287,448.8 287,450.2 242.5,454.2 233.3,454.6" fill="rgb(70,70,70)"/>
<rect x="233.70" y="452.10" width="9.0" height="2.6" rx="1.2" fill="rgb(5,5,5)"/>
<rect x="234.70" y="469.70" width="7" height="3.0" rx="1.2" fill="rgb(205,205,205)"/>
<rect x="243.50" y="469.50" width="7" height="3.0" rx="1.2" fill="rgb(195,195,195)"/>
<rect x="251.90" y="469.40" width="7.4" height="3.0" rx="1.2" fill="rgb(95,95,95)"/>
<rect x="261.00" y="469.70" width="8.2" height="3.0" rx="1.2" fill="rgb(10,10,10)"/>
<rect x="270.60" y="469.00" width="7.6" height="3.0" rx="1.2" fill="rgb(20,20,20)"/>
<rect x="279.60" y="468.30" width="7.6" height="3.0" rx="1.2" fill="rgb(15,15,15)"/>
<rect x="252.10" y="475.00" width="7" height="2.0" rx="1.2" fill="rgb(215,215,215)"/>
<rect x="261.10" y="475.40" width="8" height="2.0" rx="1.2" fill="rgb(100,100,100)"/>
<rect x="270.60" y="474.80" width="7.6" height="2.0" rx="1.2" fill="rgb(90,90,90)"/>
<rect x="279.60" y="473.90" width="7.6" height="2.0" rx="1.2" fill="rgb(95,95,95)"/>
<rect x="234.10" y="492.00" width="8.2" height="3.4" rx="1.2" fill="rgb(5,5,5)"/>
<rect x="242.90" y="491.90" width="8.2" height="3.4" rx="1.2" fill="rgb(5,5,5)"/>
<rect x="251.50" y="491.70" width="8.2" height="3.4" rx="1.2" fill="rgb(8,8,8)"/>
<rect x="261.00" y="491.30" width="8.2" height="3.4" rx="1.2" fill="rgb(10,10,10)"/>
<rect x="270.30" y="490.70" width="8.2" height="3.4" rx="1.2" fill="rgb(12,12,12)"/>
<rect x="279.30" y="490.20" width="8.2" height="3.4" rx="1.2" fill="rgb(15,15,15)"/>
</g>
<text x="341.8" y="370" font-size="10.8" fill="#000" font-weight="bold" stroke="#000" stroke-width="0.22" >H</text>
<line x1="371.2" y1="391.0" x2="371.2" y2="482.1" stroke="#2a2a2a" stroke-width="1.2"/>
<line x1="370.6" y1="481.5" x2="503.6" y2="481.5" stroke="#2a2a2a" stroke-width="1.2"/>
<line x1="368" y1="394.02" x2="371.2" y2="394.02" stroke="#2a2a2a" stroke-width="1"/>
<text x="365.0" y="396.52" font-size="7.2" text-anchor="end" stroke="#1a1a1a" stroke-width="0.22" >1.2</text>
<line x1="368" y1="408.6" x2="371.2" y2="408.6" stroke="#2a2a2a" stroke-width="1"/>
<text x="365.0" y="411.1" font-size="7.2" text-anchor="end" stroke="#1a1a1a" stroke-width="0.22" >1.0</text>
<line x1="368" y1="423.18" x2="371.2" y2="423.18" stroke="#2a2a2a" stroke-width="1"/>
<text x="365.0" y="425.68" font-size="7.2" text-anchor="end" stroke="#1a1a1a" stroke-width="0.22" >0.8</text>
<line x1="368" y1="437.76" x2="371.2" y2="437.76" stroke="#2a2a2a" stroke-width="1"/>
<text x="365.0" y="440.26" font-size="7.2" text-anchor="end" stroke="#1a1a1a" stroke-width="0.22" >0.6</text>
<line x1="368" y1="452.34" x2="371.2" y2="452.34" stroke="#2a2a2a" stroke-width="1"/>
<text x="365.0" y="454.84" font-size="7.2" text-anchor="end" stroke="#1a1a1a" stroke-width="0.22" >0.4</text>
<line x1="368" y1="466.92" x2="371.2" y2="466.92" stroke="#2a2a2a" stroke-width="1"/>
<text x="365.0" y="469.42" font-size="7.2" text-anchor="end" stroke="#1a1a1a" stroke-width="0.22" >0.2</text>
<line x1="368" y1="481.5" x2="371.2" y2="481.5" stroke="#2a2a2a" stroke-width="1"/>
<text x="365.0" y="484.0" font-size="7.2" text-anchor="end" stroke="#1a1a1a" stroke-width="0.22" >0.0</text>
<text x="348.4" y="475.0" font-size="9.6" textLength="5.2" lengthAdjust="spacingAndGlyphs" transform="rotate(-90 348.4 475.0)" stroke="#1a1a1a" stroke-width="0.38">m</text>
<text x="344.9" y="469.6" font-size="6.0" textLength="2.5" lengthAdjust="spacingAndGlyphs" transform="rotate(-90 344.9 469.6)" stroke="#1a1a1a" stroke-width="0.3">6</text>
<text x="348.4" y="467.0" font-size="9.6" textLength="65.2" lengthAdjust="spacingAndGlyphs" transform="rotate(-90 348.4 467.0)" stroke="#1a1a1a" stroke-width="0.38">A activity (fold change)</text>
<rect x="381.20" y="408.60" width="13.00" height="72.90" fill="#c8102e" />
<rect x="414.50" y="423.80" width="12.70" height="57.70" fill="#1a5388" />
<rect x="448.00" y="436.30" width="12.70" height="45.20" fill="#3ab54a" />
<rect x="481.20" y="436.30" width="12.90" height="45.20" fill="#5b2770" />
<line x1="387.7" y1="408.6" x2="387.7" y2="408.2" stroke="#222" stroke-width="0.9"/>
<line x1="386.4" y1="408.2" x2="389.0" y2="408.2" stroke="#222" stroke-width="0.9"/>
<line x1="420.8" y1="423.8" x2="420.8" y2="417.0" stroke="#222" stroke-width="0.9"/>
<line x1="419.5" y1="417.0" x2="422.1" y2="417.0" stroke="#222" stroke-width="0.9"/>
<line x1="454.3" y1="436.3" x2="454.3" y2="430.2" stroke="#222" stroke-width="0.9"/>
<line x1="453.0" y1="430.2" x2="455.6" y2="430.2" stroke="#222" stroke-width="0.9"/>
<line x1="487.6" y1="436.3" x2="487.6" y2="435.5" stroke="#222" stroke-width="0.9"/>
<line x1="486.3" y1="435.5" x2="488.9" y2="435.5" stroke="#222" stroke-width="0.9"/>
<text x="420.7" y="412.7" font-size="7.0" text-anchor="middle" textLength="23.4" lengthAdjust="spacingAndGlyphs" stroke="#1a1a1a" stroke-width="0.22" >p=0.06</text>
<text x="454.5" y="428.6" font-size="5.5" text-anchor="middle" stroke="#1a1a1a" stroke-width="0.22" >**</text>
<text x="487.6" y="433.5" font-size="5.5" text-anchor="middle" stroke="#1a1a1a" stroke-width="0.22" >**</text>
<line x1="387.7" y1="481.5" x2="387.7" y2="485" stroke="#2a2a2a" stroke-width="1"/>
<line x1="420.5" y1="481.5" x2="420.5" y2="485" stroke="#2a2a2a" stroke-width="1"/>
<line x1="454.2" y1="481.5" x2="454.2" y2="485" stroke="#2a2a2a" stroke-width="1"/>
<line x1="487.6" y1="481.5" x2="487.6" y2="485" stroke="#2a2a2a" stroke-width="1"/>
<text x="387.4" y="493.2" font-size="7.2" text-anchor="middle" textLength="23.4" lengthAdjust="spacingAndGlyphs" stroke="#1a1a1a" stroke-width="0.22" >DMSO</text>
<text x="421.5" y="493.2" font-size="7.2" text-anchor="middle" textLength="28.9" lengthAdjust="spacingAndGlyphs" stroke="#1a1a1a" stroke-width="0.22" >0.08 μM</text>
<text x="455.0" y="493.2" font-size="7.2" text-anchor="middle" textLength="28.3" lengthAdjust="spacingAndGlyphs" stroke="#1a1a1a" stroke-width="0.22" >0.31 μM</text>
<text x="488.0" y="493.2" font-size="7.2" text-anchor="middle" textLength="27.3" lengthAdjust="spacingAndGlyphs" stroke="#1a1a1a" stroke-width="0.22" >1.25 μM</text>
<text x="410" y="505.8" font-size="8.2" textLength="54.3" lengthAdjust="spacingAndGlyphs" stroke="#1a1a1a" stroke-width="0.38">GSK3326595 (μM)</text>
<rect x="439.00" y="389.20" width="3.30" height="3.30" fill="#c8102e" />
<text x="445.5" y="393.1" font-size="7.0" textLength="21.8" lengthAdjust="spacingAndGlyphs" stroke="#1a1a1a" stroke-width="0.22" >DMSO</text>
<rect x="472.80" y="389.20" width="3.30" height="3.30" fill="#1a5388" />
<text x="479.3" y="393.1" font-size="7.0" textLength="26.7" lengthAdjust="spacingAndGlyphs" stroke="#1a1a1a" stroke-width="0.22" >0.08 μM</text>
<rect x="439.00" y="398.50" width="3.30" height="3.30" fill="#3ab54a" />
<text x="445.5" y="402.4" font-size="7.0" textLength="25.3" lengthAdjust="spacingAndGlyphs" stroke="#1a1a1a" stroke-width="0.22" >0.31 μM</text>
<rect x="477.00" y="398.50" width="3.30" height="3.30" fill="#5b2770" />
<text x="483.6" y="402.4" font-size="7.0" textLength="25.6" lengthAdjust="spacingAndGlyphs" stroke="#1a1a1a" stroke-width="0.22" >1.25 μM</text>
<rect x="0.00" y="0.00" width="520.00" height="1.15" fill="#000" />
<rect x="0.00" y="0.00" width="1.15" height="513.00" fill="#000" />
<rect x="518.85" y="0.00" width="1.15" height="513.00" fill="#000" />
<rect x="0.00" y="511.80" width="520.00" height="1.20" fill="#000" />
</svg>
</body></html>
